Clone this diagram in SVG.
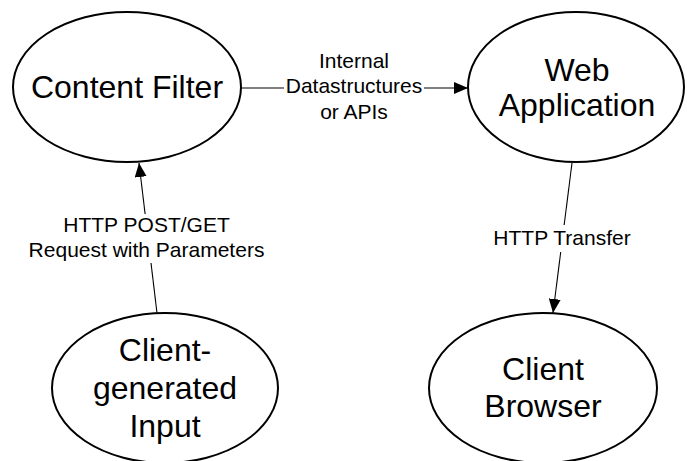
<svg xmlns="http://www.w3.org/2000/svg" width="687" height="461" viewBox="0 0 687 461">
<style>
.node ellipse{fill:#fff;stroke:#000;stroke-width:2}
.node text{font-family:"Liberation Sans",Arial,sans-serif;font-size:32px;fill:#000;text-anchor:middle}
.edge line{stroke:#000;stroke-width:1.1;fill:none}
.lbl{font-family:"Liberation Sans",Arial,sans-serif;font-size:21px;fill:#000;text-anchor:middle}
.bg{fill:#fff}
</style>
<defs>
<marker id="arr" viewBox="0 0 14 12" refX="14" refY="6" markerWidth="14" markerHeight="12" markerUnits="userSpaceOnUse" orient="auto">
<path d="M0,0 L14,6 L0,12 Z" fill="#000"/>
</marker>
</defs>
<g id="connectors">
<g class="edge" id="e1">
<line x1="241" y1="88" x2="468" y2="88" marker-end="url(#arr)"/>
<rect class="bg" x="284" y="76" width="140" height="22"/>
<text class="lbl" x="354" y="68">Internal</text>
<text class="lbl" x="354" y="93">Datastructures</text>
<text class="lbl" x="354" y="119">or APIs</text>
</g>
<g class="edge" id="e2">
<line x1="157" y1="313" x2="139" y2="163" marker-end="url(#arr)"/>
<rect class="bg" x="60" y="214" width="175" height="24"/>
<rect class="bg" x="27" y="238" width="240" height="25"/>
<text class="lbl" x="146.5" y="232">HTTP POST/GET</text>
<text class="lbl" x="146.5" y="257">Request with Parameters</text>
</g>
<g class="edge" id="e3">
<line x1="572" y1="163" x2="553" y2="313" marker-end="url(#arr)"/>
<rect class="bg" x="490" y="225" width="145" height="27"/>
<text class="lbl" x="562" y="245">HTTP Transfer</text>
</g>
</g>
<g class="node" id="content-filter">
<ellipse cx="127" cy="87" rx="114" ry="75"/>
<text x="127" y="98">Content Filter</text>
</g>
<g class="node" id="web-application">
<ellipse cx="576" cy="87" rx="108" ry="75"/>
<text x="577" y="81">Web</text>
<text x="577" y="116">Application</text>
</g>
<g class="node" id="client-input">
<ellipse cx="165" cy="388" rx="113" ry="75"/>
<text x="165" y="361">Client-</text>
<text x="165" y="399">generated</text>
<text x="165" y="437">Input</text>
</g>
<g class="node" id="client-browser">
<ellipse cx="543" cy="388" rx="114" ry="75"/>
<text x="543" y="380">Client</text>
<text x="543" y="417">Browser</text>
</g>
</svg>
